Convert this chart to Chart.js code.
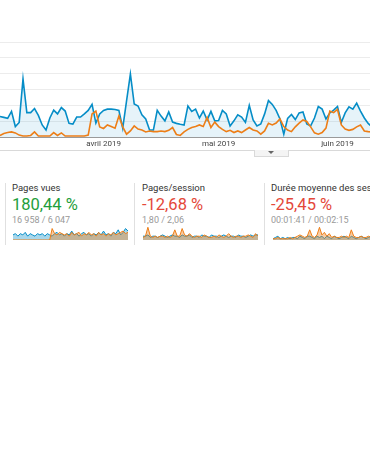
<!DOCTYPE html>
<html lang="fr">
<head>
<meta charset="utf-8">
<script src="https://cdn.jsdelivr.net/npm/chart.js@4"></script>
<style>
  html, body { margin:0; padding:0; background:#fff; }
  body { width:370px; height:450px; overflow:hidden; position:relative; font-family:Roboto, Arial, sans-serif; }
  #main-wrap { position:absolute; left:-2px; top:32px; width:376px; height:117px; }
  .footer-line { position:absolute; left:0; top:150px; width:370px; height:1px; background:#d9d9d9; }
  .tab { position:absolute; left:254px; top:150px; width:33px; height:6px; border:1px solid #d9d9d9; border-top:none; background:#f4f4f4; }
  .tab:after { content:''; position:absolute; left:13px; top:1px; border-left:3px solid transparent; border-right:3px solid transparent; border-top:3px solid #666; }
  .sep { position:absolute; top:183px; width:1px; height:62px; background:#e0e0e0; }
  .card { position:absolute; top:182px; white-space:nowrap; }
  .title { font-size:9.5px; color:#333; line-height:12px; }
  .big { font-size:16.5px; line-height:18px; margin-top:2px; }
  .big.green { color:#1e9e3b; }
  .big.red { color:#e4483a; }
  .sub { font-size:9px; color:#999; line-height:11px; margin-top:1px; }
  .spark { position:absolute; top:226px; width:115px; height:14px; }
</style>
</head>
<body>

<div id="main-wrap"><canvas id="chart-main"></canvas></div>
<div class="footer-line"></div>
<div class="tab"></div>

<div class="sep" style="left:5px"></div>
<div class="sep" style="left:134px"></div>
<div class="sep" style="left:264px"></div>

<div class="card" style="left:12px">
  <div class="title">Pages vues</div>
  <div class="big green">180,44 %</div>
  <div class="sub">16 958 / 6 047</div>
</div>
<div class="card" style="left:142px">
  <div class="title">Pages/session</div>
  <div class="big red">-12,68 %</div>
  <div class="sub">1,80 / 2,06</div>
</div>
<div class="card" style="left:271px">
  <div class="title">Durée moyenne des sessions</div>
  <div class="big red">-25,45 %</div>
  <div class="sub">00:01:41 / 00:02:15</div>
</div>

<div class="spark" style="left:13px"><canvas id="spark-1"></canvas></div>
<div class="spark" style="left:143px"><canvas id="spark-2"></canvas></div>
<div class="spark" style="left:273px"><canvas id="spark-3"></canvas></div>

<script>
// ── Daten (Hauptdiagramm, täglich ab 5. März 2019) ──
const startDatum = '2019-03-05';

const aktuell = [
  65, 62, 59, 81, 33, 46, 183, 77, 77, 90, 68, 38, 22, 60, 85, 73, 93, 82, 43, 41, 63, 63, 73, 84, 103, 44, 73,
  84, 88, 88, 87, 84, 28, 114, 199, 104, 98, 70, 57, 22, 22, 84, 66, 51, 79, 47, 43, 40, 38, 98, 81, 88, 60, 82, 54, 81, 51,
  52, 84, 73, 35, 51, 70, 63, 46, 100, 54, 35, 41, 73, 115, 103, 84, 57, 9, 59, 71, 55, 76, 79, 41, 35, 60, 96, 88, 57, 76, 85,
  96, 46, 76, 95, 88, 107, 82, 60, 43, 32
];

const vorher = [
  5, 11, 14, 16, 13, 6, 3, 3, 5, 16, 3, 3, 3, 3, 14, 5, 13, 3, 3, 3, 3, 3, 3, 6, 73, 82, 32,
  27, 38, 33, 28, 66, 32, 9, 19, 35, 25, 22, 16, 19, 17, 17, 19, 17, 21, 30, 8, 5, 16, 24, 30, 33, 38, 33, 62, 30, 47,
  33, 24, 17, 21, 14, 19, 14, 22, 30, 22, 19, 9, 19, 43, 38, 44, 57, 33, 22, 17, 32, 44, 54, 49, 32, 13, 9, 14, 28, 82, 77,
  87, 38, 25, 21, 24, 32, 38, 19, 17, 16
];

const yTicks = [0, 50, 100, 150, 200, 250, 300];
const monatsTicks = ['avril 2019', 'mai 2019', 'juin 2019'];
const monatsTickDaten = ['2019-04-01', '2019-05-01', '2019-06-01'];

// ── Sparklines ──
const spark1Aktuell = [4,5,3,5,4,6,3,5,4,3,5,4,5,3,5,4,3,5,6,4,5,3,5,4,7,4,5,3,5,6,4,5,3,5,4,6,4,7,4,5,3,6,5,8,4,6,9,7];
const spark1Vorher  = [0,0,0,0,0,0,0,0,0,0,0,0,0,0,0,0,9,5,4,6,5,4,5,3,6,4,5,6,3,5,4,6,4,5,3,6,4,5,3,5,4,6,4,5,6,7,5,6];
const spark2Aktuell = [3,3,4,2,3,3,2,3,4,3,2,3,4,3,3,2,4,3,3,4,2,3,3,2,4,3,3,2,4,3,3,2,3,4,3,2,3,3,2,4,3,3,2,3,4,3,4,4];
const spark2Vorher  = [2,3,10,3,2,3,2,3,3,2,3,2,3,8,3,3,9,4,3,5,3,2,3,3,2,4,3,2,2,3,2,4,3,2,3,5,3,2,3,3,2,3,3,4,3,2,5,3];
const spark3Aktuell = [1,2,3,1,2,1,2,1,2,2,1,3,2,1,3,3,2,1,3,2,3,1,3,2,1,3,2,1,2,3,2,1,3,2,1,2,3,2,1,2,3,2,1,2,2,3,2,2];
const spark3Vorher  = [1,1,2,1,1,1,1,2,1,2,3,4,3,2,3,8,3,2,4,10,4,6,3,5,2,3,2,2,3,2,3,2,8,3,2,2,3,2,2,3,2,2,3,2,2,3,2,2];

const BLAU = '#058dc7';
const ORANGE = '#ed7e17';

// Tageslabels aus Startdatum
function tagesLabels(start, n) {
  const out = [];
  const d = new Date(start + 'T00:00:00Z');
  for (let i = 0; i < n; i++) {
    out.push(d.toISOString().slice(0, 10));
    d.setUTCDate(d.getUTCDate() + 1);
  }
  return out;
}

const labels = tagesLabels(startDatum, aktuell.length);

new Chart(document.getElementById('chart-main'), {
  type: 'line',
  data: {
    labels,
    datasets: [
      {
        data: vorher,
        borderColor: ORANGE,
        borderWidth: 1.6,
        pointRadius: 0,
        fill: false,
        tension: 0
      },
      {
        data: aktuell,
        borderColor: BLAU,
        backgroundColor: 'rgba(5,141,199,0.1)',
        borderWidth: 1.6,
        pointRadius: 0,
        fill: 'origin',
        tension: 0
      }
    ]
  },
  options: {
    responsive: true,
    maintainAspectRatio: false,
    animation: false,
    layout: { padding: { top: 10, left: 0, right: 0, bottom: 0 } },
    plugins: { legend: { display: false }, tooltip: { enabled: false } },
    scales: {
      x: {
        grid: { display: false, drawTicks: false },
        border: { color: '#9a9a9a', width: 1 },
        ticks: {
          autoSkip: false,
          maxRotation: 0,
          padding: 2,
          color: '#444',
          font: { family: 'Roboto', size: 8 },
          callback: (v, i) => {
            const k = monatsTickDaten.indexOf(labels[i]);
            return k >= 0 ? monatsTicks[k] : '';
          }
        },
        afterFit: s => { s.height = 12; }
      },
      y: {
        min: yTicks[0],
        max: yTicks[yTicks.length - 1],
        afterBuildTicks: s => { s.ticks = yTicks.map(v => ({ value: v })); },
        grid: { color: '#ececec', drawTicks: false },
        border: { display: false },
        ticks: { display: false }
      }
    }
  }
});

// ── Sparkline Helfer ──
function sparkline(id, blau, orange) {
  const lbl = blau.map((_, i) => i);
  new Chart(document.getElementById(id), {
    type: 'line',
    data: {
      labels: lbl,
      datasets: [
        { data: orange, borderColor: ORANGE, backgroundColor: 'rgba(237,126,23,0.4)', borderWidth: 1, pointRadius: 0, fill: 'origin' },
        { data: blau,   borderColor: BLAU,   backgroundColor: 'rgba(5,141,199,0.35)', borderWidth: 1, pointRadius: 0, fill: 'origin' }
      ]
    },
    options: {
      responsive: true,
      maintainAspectRatio: false,
      animation: false,
      layout: { padding: 0 },
      plugins: { legend: { display: false }, tooltip: { enabled: false } },
      scales: {
        x: { display: false },
        y: { display: false, min: 0, max: 11 }
      }
    }
  });
}

sparkline('spark-1', spark1Aktuell, spark1Vorher);
sparkline('spark-2', spark2Aktuell, spark2Vorher);
sparkline('spark-3', spark3Aktuell, spark3Vorher);
</script>
</body>
</html>
